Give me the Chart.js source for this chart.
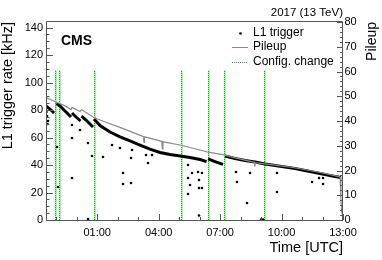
<!DOCTYPE html>
<html>
<head>
<meta charset="utf-8">
<script src="https://cdn.jsdelivr.net/npm/chart.js@4.4.0/dist/chart.umd.min.js"></script>
<style>
  html, body { margin: 0; padding: 0; background: #fff; }
  canvas { display: block; }
</style>
</head>
<body>
<canvas id="rateChart" width="382" height="260"></canvas>
<script>
// hours since midnight UTC (negative = previous evening)
const tickHours = [1, 4, 7, 10, 13];
const rateTicks = [0, 20, 40, 60, 80, 100, 120, 140];
const pileupTicks = [0, 10, 20, 30, 40, 50, 60, 70, 80];

// dense L1 trigger band, null separates the fills / resets
const bandHours = [
  -1.5, -1.305, -1.109, null,
  -0.987, -0.816, -0.621, -0.426, -0.279, null,
  -0.23, -0.035, 0.185, null,
  0.233, 0.453, 0.648, 0.795, null,
  0.844, 1.137, 1.625, 2.113, 2.602, 3.09, 3.578, 4.066, 4.555, 5.043, 5.531, 6.02, 6.337, null,
  6.41, 6.752, 7.143, null,
  7.24, 7.729, 8.217, 8.705, 9.193, 9.682, 10.17, 10.658, 11.146, 11.635, 12.123, 12.611, 12.904
];
const bandRates = [
  82.9, 80.7, 77.8, null,
  84.7, 82.9, 80.0, 77.1, 74.9, null,
  77.8, 74.9, 72.0, null,
  75.6, 72.7, 69.8, 67.6, null,
  73.5, 68.7, 64.0, 60.4, 57.5, 54.5, 51.6, 49.1, 47.6, 46.5, 45.5, 44.0, 42.5, null,
  44.4, 42.5, 40.4, null,
  46.5, 44.7, 43.3, 42.2, 40.7, 39.6, 38.5, 37.5, 36.0, 34.5, 33.1, 31.6, 30.9
];

// isolated L1 trigger measurements
const outlierHours = [
  -1.476, -1.451, -1.427, -1.402, -0.963, -0.914, -0.23, -0.23, -0.23, 0.16,
  0.551, 0.746, 0.551, 1.283, 1.723, 2.113, 2.26, 2.26, 2.65, 2.65, 2.699,
  3.383, 3.48, 3.676, 5.434, 5.434, 5.531, 5.629, 5.922, 6.117, 5.97, 5.97,
  6.117, 5.97, 5.434, 7.777, 7.826, 8.314, 8.461, 9.0, 9.1, 9.779, 9.779,
  11.488, 11.83, 12.025, 12.025
];
const outlierRates = [
  78.5, 75.6, 69.8, 72.0, 53.1, 24.0, 59.6, 30.5, 69.1, 65.5,
  56.0, 46.5, 0.7, 45.8, 54.5, 52.4, 34.2, 26.2, 26.9, 45.1, 50.9,
  47.3, 41.5, 47.3, 40.0, 30.5, 25.5, 34.2, 34.9, 34.2, 29.1, 23.3,
  23.3, 3.3, 18.9, 34.9, 27.6, 12.4, 34.2, 0.4, 0.4, 34.2, 20.4,
  27.6, 30.5, 30.5, 26.2
];

const pileupHours = [
  -1.5, -1.11, -1.01, -0.62, -0.28, -0.23, 0.16, 0.23, 0.84, 1.33, 2.11,
  2.8, 3.19, 3.26, 3.285, 3.31, 4.15, 4.18, 4.21, 5.04, 6.02, 6.36, 7.19,
  7.73, 8.68, 8.7, 8.72, 9.19, 10.56, 11.88, 12.86, 12.9, 12.95
];
const pileupValues = [
  49.5, 48.1, 47.7, 46.3, 44.6, 45.5, 43.8, 44.6, 41.4, 39.8, 37.4,
  35.2, 33.9, 33.7, 31.4, 33.6, 31.8, 28.7, 31.6, 30.3, 28.3, 27.5, 26.3,
  25.1, 23.3, 21.6, 23.2, 22.7, 21.2, 19.2, 17.4, 8.1, 2.4
];

const configHours = [-1.06, -0.85, 0.84, 5.07, 6.39, 7.21, 9.16];
const configTop = 60.5; // on the pileup axis

const GREEN = '#00c000';
const LIGHT_GREEN = '#b4eab4';
const GREY = '#8c8c8c';
const FONT = "'Liberation Sans', Arial, Helvetica, sans-serif";
Chart.defaults.font.family = FONT;

const bandPoints = bandHours.map((t, i) => ({ x: t, y: bandRates[i] }));
const outlierPoints = outlierHours.map((t, i) => ({ x: t, y: outlierRates[i] }));
const pileupPoints = pileupHours.map((t, i) => ({ x: t, y: pileupValues[i] }));

// ROOT-style config lines, frame, inward ticks, labels and legend
const rootStyle = {
  id: 'rootStyle',
  beforeDatasetsDraw(chart) {
    const { ctx, scales } = chart;
    const y0 = scales.y1.getPixelForValue(0);
    const y1 = scales.y1.getPixelForValue(configTop);
    const xs = configHours.map(t => Math.round(scales.x.getPixelForValue(t)) + 0.5);
    ctx.save();
    // pale two-pixel column under a dotted green line
    ctx.strokeStyle = LIGHT_GREEN;
    ctx.lineWidth = 2;
    ctx.beginPath();
    xs.forEach(x => { ctx.moveTo(x + 0.5, y0); ctx.lineTo(x + 0.5, y1); });
    ctx.stroke();
    ctx.strokeStyle = GREEN;
    ctx.lineWidth = 1;
    ctx.setLineDash([1, 1]);
    ctx.beginPath();
    xs.forEach(x => { ctx.moveTo(x, y0); ctx.lineTo(x, y1); });
    ctx.stroke();
    ctx.restore();
  },
  afterDatasetsDraw(chart) {
    const { ctx, chartArea: a, scales } = chart;
    ctx.save();
    ctx.strokeStyle = '#555';
    ctx.lineWidth = 1;
    ctx.beginPath();
    ctx.rect(a.left + 0.5, a.top - 0.5, a.right - a.left - 1, a.bottom - a.top + 1);
    ctx.stroke();

    ctx.beginPath();
    for (let v = 0; v <= 140; v += 5) {
      const y = Math.round(scales.y.getPixelForValue(v)) + 0.5;
      const len = v % 20 === 0 ? 7 : 3.5;
      ctx.moveTo(a.left, y); ctx.lineTo(a.left + len, y);
    }
    for (let v = 0; v <= 80; v += 2) {
      const y = Math.round(scales.y1.getPixelForValue(v)) + 0.5;
      const len = v % 10 === 0 ? 6 : 3;
      ctx.moveTo(a.right, y); ctx.lineTo(a.right - len, y);
    }
    for (let h = -1; h <= 13; h++) {
      const x = Math.round(scales.x.getPixelForValue(h)) + 0.5;
      const len = tickHours.includes(h) ? 6 : 3;
      ctx.moveTo(x, a.bottom); ctx.lineTo(x, a.bottom - len);
    }
    ctx.stroke();
    ctx.restore();
  },
  afterDraw(chart) {
    const { ctx, chartArea: a } = chart;
    ctx.save();
    ctx.fillStyle = '#000';

    // axis titles
    ctx.font = '14.5px ' + FONT;
    ctx.textAlign = 'right';
    ctx.textBaseline = 'alphabetic';
    ctx.fillText('Time [UTC]', a.right, 252);

    ctx.save();
    ctx.translate(12, a.top);
    ctx.rotate(-Math.PI / 2);
    ctx.fillText('L1 trigger rate [kHz]', 0, 0);
    ctx.restore();

    ctx.save();
    ctx.font = '14px ' + FONT;
    ctx.translate(375.5, a.top);
    ctx.rotate(-Math.PI / 2);
    ctx.fillText('Pileup', 0, 0);
    ctx.restore();

    // labels
    ctx.font = '11.5px ' + FONT;
    ctx.textBaseline = 'middle';
    ctx.fillText('2017 (13 TeV)', a.right, 13);

    ctx.font = 'bold 14px ' + FONT;
    ctx.textAlign = 'left';
    ctx.textBaseline = 'alphabetic';
    ctx.fillText('CMS', 61, 45);

    // legend
    ctx.font = '12px ' + FONT;
    ctx.textBaseline = 'middle';
    ctx.fillText('L1 trigger', 253, 33);
    ctx.fillText('Pileup', 253, 47);
    ctx.fillText('Config. change', 253, 62);

    ctx.beginPath();
    ctx.arc(240.5, 33.5, 1.3, 0, Math.PI * 2);
    ctx.fill();

    ctx.lineWidth = 1;
    ctx.strokeStyle = GREY;
    ctx.beginPath();
    ctx.moveTo(232, 47.5); ctx.lineTo(248, 47.5);
    ctx.stroke();

    ctx.strokeStyle = GREEN;
    ctx.setLineDash([1, 1]);
    ctx.beginPath();
    ctx.moveTo(232, 62.5); ctx.lineTo(248, 62.5);
    ctx.stroke();
    ctx.restore();
  }
};

new Chart(document.getElementById('rateChart'), {
  type: 'scatter',
  data: {
    datasets: [{
      type: 'line',
      label: 'Pileup',
      yAxisID: 'y1',
      data: pileupPoints,
      borderColor: GREY,
      borderWidth: 1.2,
      pointRadius: 0,
      tension: 0,
      order: 1
    }, {
      type: 'line',
      label: 'L1 trigger',
      yAxisID: 'y',
      data: bandPoints,
      borderColor: '#000',
      borderWidth: 3,
      pointRadius: 0,
      spanGaps: false,
      tension: 0,
      order: 2
    }, {
      type: 'scatter',
      label: 'L1 trigger (isolated)',
      yAxisID: 'y',
      data: outlierPoints,
      backgroundColor: '#000',
      borderWidth: 0,
      pointRadius: 1.3,
      order: 3
    }]
  },
  options: {
    responsive: false,
    devicePixelRatio: 1,
    animation: false,
    events: [],
    layout: { padding: { top: 22, left: 0, right: 0, bottom: 0 } },
    plugins: {
      legend: { display: false },
      tooltip: { enabled: false }
    },
    scales: {
      x: {
        type: 'linear',
        min: -1.5,
        max: 13,
        afterBuildTicks: s => { s.ticks = tickHours.map(v => ({ value: v })); },
        afterFit: s => { s.height = 40; },
        ticks: {
          autoSkip: false,
          maxRotation: 0,
          padding: 6,
          color: '#000',
          font: { size: 11 },
          callback: v => (v < 10 ? '0' : '') + v + ':00'
        },
        grid: { display: false, drawTicks: false },
        border: { display: false }
      },
      y: {
        position: 'left',
        min: 0,
        max: 144,
        afterBuildTicks: s => { s.ticks = rateTicks.map(v => ({ value: v })); },
        afterFit: s => { s.width = 46; },
        ticks: { padding: 3, color: '#000', font: { size: 11 } },
        grid: { display: false, drawTicks: false },
        border: { display: false }
      },
      y1: {
        position: 'right',
        min: 0,
        max: 80,
        afterBuildTicks: s => { s.ticks = pileupTicks.map(v => ({ value: v })); },
        afterFit: s => { s.width = 39; },
        ticks: { padding: 1.5, color: '#000', font: { size: 11 } },
        grid: { display: false, drawTicks: false },
        border: { display: false }
      }
    }
  },
  plugins: [rootStyle]
});
</script>
</body>
</html>
